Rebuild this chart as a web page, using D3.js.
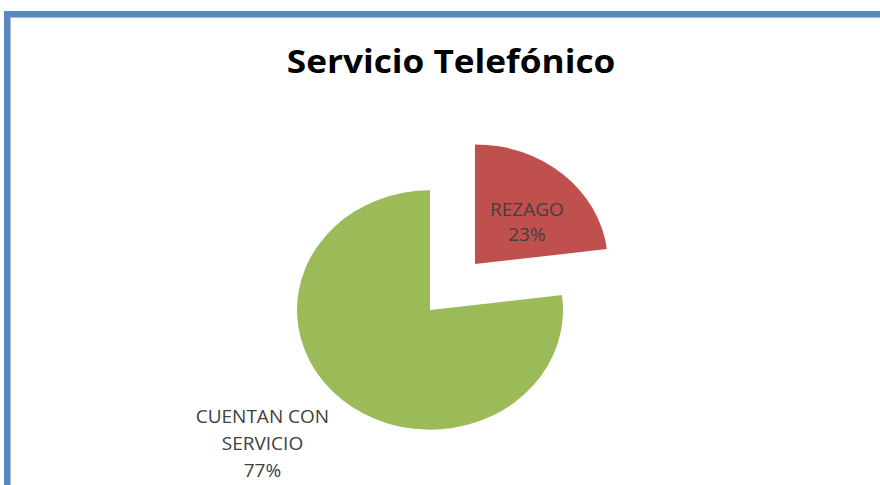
<!DOCTYPE html>
<html>
<head>
<meta charset="utf-8">
<script src="https://d3js.org/d3.v7.min.js"></script>
<style>
    body { margin: 0; background: #fff; }
    svg { display: block; }
</style>
</head>
<body>
<svg id="chart" width="880" height="485"></svg>
<script>
    // chart data
    var title = "Servicio Telefónico";
    var categories = ["REZAGO", "CUENTAN CON SERVICIO"];
    var values = [23, 77];
    var labelLines = [["REZAGO", "23%"], ["CUENTAN CON", "SERVICIO", "77%"]];
    var colors = ["#C0504D", "#9BBB59"];
    var exploded = [true, false];

    var svg = d3.select("#chart");
    var width = 880, height = 485;

    // frame (blue border with thin grey shadow)
    svg.append("rect").attr("x", 10).attr("y", 17).attr("width", 880).attr("height", 500)
        .attr("fill", "none").attr("stroke", "#b8b8b8").attr("stroke-width", 2);
    svg.append("rect").attr("x", 7).attr("y", 14).attr("width", 880).attr("height", 500)
        .attr("fill", "none").attr("stroke", "#5589C6").attr("stroke-width", 6);

    // the original picture is a bit stretched horizontally
    var sx = 1.1;

    svg.append("text")
        .attr("transform", `translate(451,73) scale(${sx},1)`)
        .attr("text-anchor", "middle")
        .attr("font-family", "Open Sans")
        .attr("font-weight", "bold")
        .attr("font-size", 32)
        .attr("fill", "#000")
        .text(title);

    var cx = 430, cy = 310, r = 133, sy = 0.9;
    var explode = 68;

    var pie = d3.pie().sort(null).value(d => d)
        .startAngle(0).endAngle(2 * Math.PI);
    var arcs = pie(values);
    var arc = d3.arc().innerRadius(0).outerRadius(r);

    var g = svg.append("g").attr("transform", `translate(${cx},${cy}) scale(1,${sy})`);

    function offset(d, i) {
        if (!exploded[i]) return [0, 0];
        var a = (d.startAngle + d.endAngle) / 2;
        return [Math.sin(a) * explode, -Math.cos(a) * explode];
    }

    g.selectAll("path").data(arcs).join("path")
        .attr("d", arc)
        .attr("transform", (d, i) => `translate(${offset(d, i)})`)
        .attr("fill", (d, i) => colors[i]);

    // labels: red inside, green outside lower-left
    var inArc = d3.arc().innerRadius(r * 0.5).outerRadius(r * 0.5);
    var outArc = d3.arc().innerRadius(r * 1.45).outerRadius(r * 1.45);

    arcs.forEach(function(d, i) {
        var o = offset(d, i);
        var c = i === 0 ? inArc.centroid(d) : outArc.centroid(d);
        var x = cx + c[0] + o[0];
        var y = cy + (c[1] + o[1]) * sy;
        var lineH = 25;
        if (i === 0) { x += 8; y += 2; }
        if (i === 1) { x -= 40; y += 3; lineH = 27; }
        var lines = labelLines[i];
        var t = svg.append("text")
            .attr("text-anchor", "middle")
            .attr("font-family", "Open Sans")
            .attr("font-size", 19)
            .attr("fill", "#404040");
        lines.forEach(function(s, k) {
            t.append("tspan")
                .attr("x", x)
                .attr("y", y + (k - (lines.length - 1) / 2) * lineH + 7)
                .text(s);
        });
    });
</script>
</body>
</html>
